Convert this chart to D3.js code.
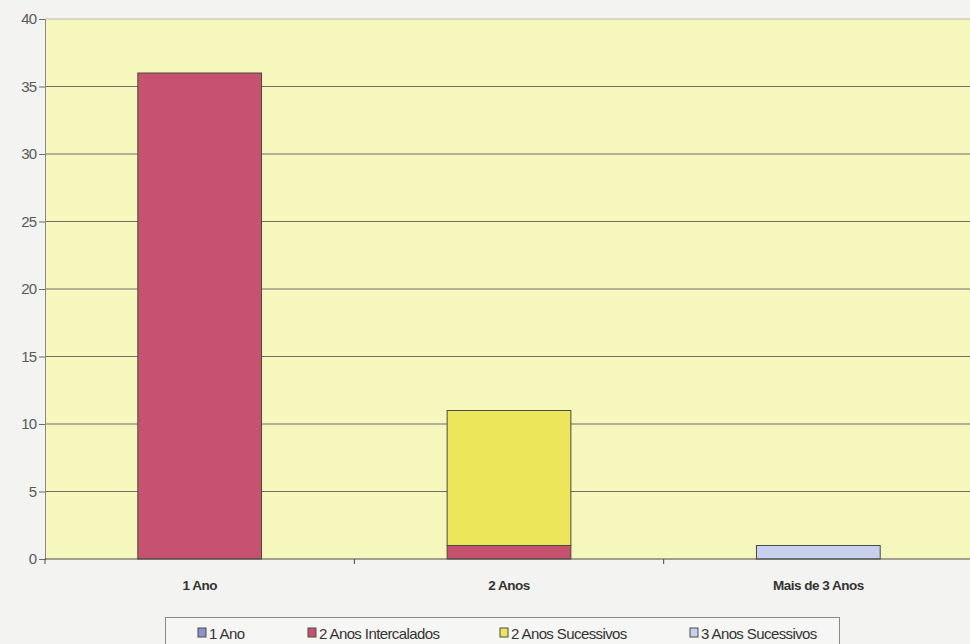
<!DOCTYPE html>
<html>
<head>
<meta charset="utf-8">
<script src="https://cdn.jsdelivr.net/npm/d3@7"></script>
<style>
  html, body { margin: 0; padding: 0; background: #f3f3f1; }
  svg { display: block; }
  text { font-family: "Liberation Sans", Arial, sans-serif; }
</style>
</head>
<body>
<svg id="chart" width="970" height="644"></svg>
<script>
// Categories along the x axis
const categories = ["1 Ano", "2 Anos", "Mais de 3 Anos"];

// Stacked series (one value per category)
const seriesNames = ["1 Ano", "2 Anos Intercalados", "2 Anos Sucessivos", "3 Anos Sucessivos"];
const serie1Ano = [0, 0, 0];
const serie2AnosIntercalados = [36, 1, 0];
const serie2AnosSucessivos = [0, 10, 0];
const serie3AnosSucessivos = [0, 0, 1];
const seriesColors = ["#8c93cc", "#c6526f", "#ece65a", "#c8d0f0"];

// Y axis ticks
const yTicks = [0, 5, 10, 15, 20, 25, 30, 35, 40];

const seriesValues = [serie1Ano, serie2AnosIntercalados, serie2AnosSucessivos, serie3AnosSucessivos];
const rows = categories.map((c, i) => {
  const r = { category: c };
  seriesNames.forEach((s, j) => { r[s] = seriesValues[j][i]; });
  return r;
});

const svg = d3.select("#chart");
const plot = { left: 45, right: 973, top: 19, bottom: 559 };

const x = d3.scaleBand()
  .domain(categories)
  .range([plot.left, plot.right])
  .paddingInner(0.6)
  .paddingOuter(0.3);

const xCat = d3.scaleBand().domain(categories).range([plot.left, plot.right]).padding(0);

const y = d3.scaleLinear().domain([0, 40]).range([plot.bottom, plot.top]);

// Plot background
svg.append("rect")
  .attr("x", plot.left).attr("y", plot.top)
  .attr("width", plot.right - plot.left).attr("height", plot.bottom - plot.top)
  .attr("fill", "#f5f7bd");

// Gridlines
svg.append("g")
  .selectAll("line")
  .data(yTicks.filter(d => d > 0))
  .join("line")
  .attr("x1", plot.left).attr("x2", plot.right)
  .attr("y1", d => y(d)).attr("y2", d => y(d))
  .attr("stroke", d => d === 40 ? "#b8b8b0" : "#6e6e66")
  .attr("stroke-width", 1);

// Stacked bars
const stack = d3.stack().keys(seriesNames)(rows);
svg.append("g")
  .selectAll("g")
  .data(stack)
  .join("g")
  .attr("fill", (d, i) => seriesColors[i])
  .selectAll("rect")
  .data(d => d.filter(p => p[1] - p[0] > 0))
  .join("rect")
  .attr("x", d => x(d.data.category))
  .attr("y", d => y(d[1]))
  .attr("width", x.bandwidth())
  .attr("height", d => y(d[0]) - y(d[1]))
  .attr("stroke", "#4a4a44")
  .attr("stroke-width", 1);

// Y axis
const yAxis = d3.axisLeft(y).tickValues(yTicks).tickSize(6).tickPadding(3);
const gy = svg.append("g")
  .attr("transform", `translate(${plot.left},0)`)
  .call(yAxis);
gy.select(".domain").attr("stroke", "#8a8a84");
gy.selectAll(".tick line").attr("stroke", "#6e6e66");
gy.selectAll(".tick text")
  .attr("fill", "#5a5a58")
  .attr("font-size", 15)
  .attr("letter-spacing", "-1px");

// X axis: ticks between categories
const gx = svg.append("g")
  .attr("transform", `translate(0,${plot.bottom})`);
gx.append("line")
  .attr("x1", plot.left).attr("x2", plot.right)
  .attr("stroke", "#4a4a44");
gx.selectAll("line.sep")
  .data(categories)
  .join("line")
  .attr("class", "sep")
  .attr("x1", d => xCat(d)).attr("x2", d => xCat(d))
  .attr("y1", 0).attr("y2", 5)
  .attr("stroke", "#4a4a44");
gx.selectAll("text")
  .data(categories)
  .join("text")
  .attr("x", d => xCat(d) + xCat.bandwidth() / 2)
  .attr("y", 31)
  .attr("text-anchor", "middle")
  .attr("font-size", 13.5)
  .attr("font-weight", "bold")
  .attr("letter-spacing", "-0.5px")
  .attr("fill", "#333")
  .text(d => d);

// Legend
const legend = svg.append("g");
legend.append("rect")
  .attr("x", 165.5).attr("y", 617.5)
  .attr("width", 674).attr("height", 40)
  .attr("fill", "#f6f6f4")
  .attr("stroke", "#8a8a84");
const legendX = [198, 308, 500, 690];
const items = legend.selectAll("g.item")
  .data(seriesNames)
  .join("g")
  .attr("class", "item")
  .attr("transform", (d, i) => `translate(${legendX[i]},633)`);
items.append("rect")
  .attr("x", 0).attr("y", -5)
  .attr("width", 8).attr("height", 9)
  .attr("fill", (d, i) => seriesColors[i])
  .attr("stroke", "#4a4a44")
  .attr("stroke-width", 1);
items.append("text")
  .attr("x", 11).attr("y", 5.5)
  .attr("font-size", 15)
  .attr("letter-spacing", "-0.6px")
  .attr("fill", "#333")
  .text(d => d);
</script>
</body>
</html>
